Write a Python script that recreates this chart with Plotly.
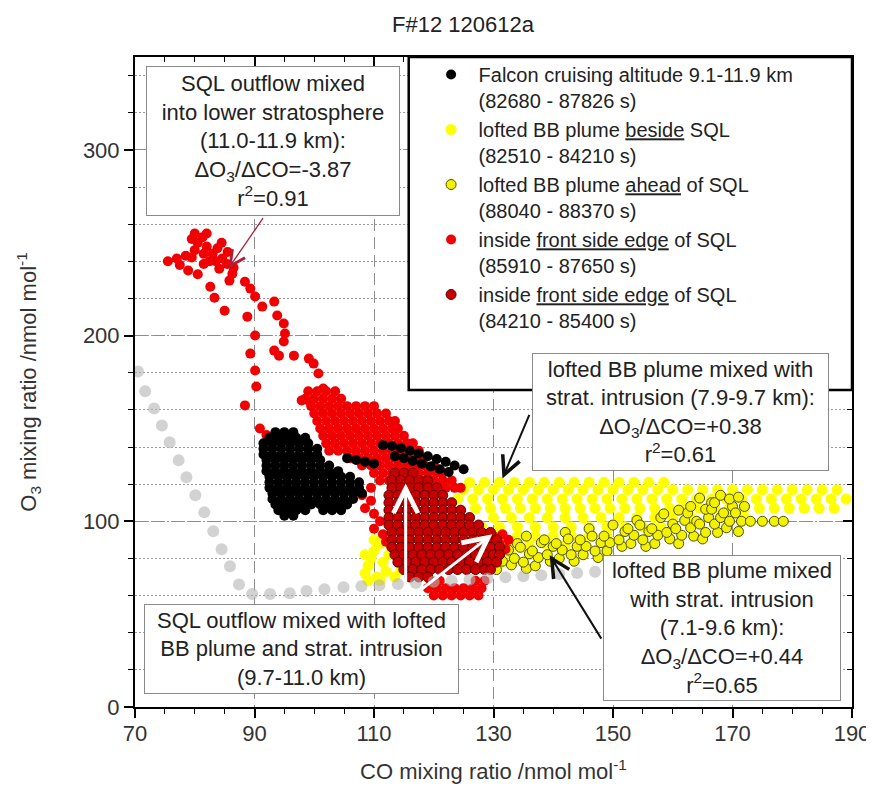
import plotly.graph_objects as go

# ---------------- data ----------------
gray_x = [70.5, 71.7, 73.2, 74.5, 75.8, 77.3, 78.6, 80.1, 81.6, 83.1, 84.5, 85.9, 87.4, 89.6, 92.6, 95.9, 98.7,
          101.7, 104.9, 107.9, 110.9, 114.0, 117.0, 120.0, 123.0, 126.0, 129.0, 132.0, 135.0, 138.0, 141.0, 144.0, 147.0]
gray_y = [180.6, 170.0, 160.7, 151.6, 142.5, 132.8, 123.7, 114.0, 104.8, 94.6, 85.0, 75.8, 66.0, 60.8, 60.8, 61.3, 62.4,
          63.4, 64.5, 65.0, 65.6, 66.2, 66.8, 67.4, 68.0, 68.6, 69.2, 69.8, 70.4, 71.0, 71.6, 72.2, 72.8]

falcon_x = [93.5, 95, 96.5,
            92.5, 94, 95.5, 97, 98.5,
            91.5, 93, 94.5, 96, 97.5, 99,
            91.5, 93, 94.5, 96, 97.5, 99, 100.5,
            91.5, 93, 94.5, 96, 97.5, 99, 100.5,
            92, 93.5, 95, 96.5, 98, 99.5, 101,
            92, 93.5, 95, 96.5, 98, 99.5, 101, 102.5,
            92, 93.5, 95, 96.5, 98, 99.5, 101, 102.5, 104,
            92.5, 94, 95.5, 97, 98.5, 100, 101.5, 103, 104.5, 106,
            92.5, 94, 95.5, 97, 98.5, 100, 101.5, 103, 104.5, 106, 107.5,
            92.5, 94, 95.5, 97, 98.5, 100, 101.5, 103, 104.5, 106, 107.5,
            93, 94.5, 96, 97.5, 99, 100.5, 102, 103.5, 105, 106.5, 108,
            93, 94.5, 96, 97.5, 99, 100.5, 102, 103.5, 105, 106.5,
            93.5, 95, 96.5, 98, 99.5, 101, 102.5, 104, 105.5,
            94, 95.5, 97, 98.5, 101.5, 103, 104.5,
            95, 96.5,
            105.5, 107, 108.5, 110, 111.5, 113, 114.5, 116, 117.5, 119, 120.5, 122, 123.5, 125,
            113.5, 115, 116.5, 118, 119.5, 121, 122.5]
falcon_y = [148, 148, 148,
            145, 145, 145, 145, 145,
            142, 142, 142, 142, 142, 142,
            139, 139, 139, 139, 139, 139, 139,
            136, 136, 136, 136, 136, 136, 136,
            133, 133, 133, 133, 133, 133, 133,
            130, 130, 130, 130, 130, 130, 130, 130,
            127, 127, 127, 127, 127, 127, 127, 127, 127,
            124, 124, 124, 124, 124, 124, 124, 124, 124, 124,
            121, 121, 121, 121, 121, 121, 121, 121, 121, 121, 121,
            118, 118, 118, 118, 118, 118, 118, 118, 118, 118, 118,
            115, 115, 115, 115, 115, 115, 115, 115, 115, 115, 115,
            112, 112, 112, 112, 112, 112, 112, 112, 112, 112,
            109, 109, 109, 109, 109, 109, 109, 109, 109,
            106, 106, 106, 106, 106, 106, 106,
            103, 103,
            134, 133, 132, 131, 141, 140.5, 139.5, 138, 136.5, 135, 133.5, 132, 130, 128,
            135, 134, 132.5, 131, 129.5, 128, 126.5]

beside_x = [126, 128.5, 131, 133.5, 136, 138.5, 141, 143.5, 146, 148.5, 151, 153.5, 156, 158.5,
            125, 127.5, 130, 132.5, 135, 137.5, 140, 142.5, 145, 147.5, 150, 152.5, 155, 157.5, 160, 162.5, 165,
            167.5, 170, 172.5, 175, 177.5, 180, 182.5, 185, 187.5,
            124, 126.5, 129, 131.5, 134, 136.5, 139, 141.5, 144, 146.5, 149, 151.5, 154, 156.5, 159, 161.5, 164,
            166.5, 169, 171.5, 174, 176.5, 179, 181.5, 184, 186.5, 189,
            127, 129.5, 132, 134.5, 137, 139.5, 142, 144.5, 147, 149.5, 152, 154.5, 157, 159.5, 162, 164.5, 167,
            169.5, 172, 174.5, 177, 179.5, 182, 184.5, 187,
            130, 133, 136, 139, 142, 145, 148, 151, 154, 157, 160, 163, 166, 169, 172,
            128, 131, 134, 137, 140, 143, 146, 149, 152, 155, 158,
            128, 131, 134, 137, 140, 143, 146, 149,
            127, 130, 133, 136, 139, 142,
            127, 130, 133, 136,
            128, 131,
            108.5, 109, 109.5, 110, 111, 110.5, 112, 111.5, 112.5, 113, 113.5, 114.5, 109, 111, 108.5, 110]
beside_y = [121] * 14 + [117] * 26 + [112] * 27 + [107] * 25 + [102] * 15 + [97] * 11 + [92] * 8 + [87] * 6 + \
           [82] * 4 + [77] * 2 + \
           [72, 76, 80, 84, 88, 70, 73, 78, 82, 86, 70, 74, 68, 68, 82, 90]

ahead_x = [129, 129.5,
           130.5, 131.5, 131, 130.5, 132,
           133, 133.5, 132.5, 134,
           135.5, 135, 136, 134.5, 135.5,
           137, 137.5, 136.5, 138,
           139.5, 139, 140, 138.5,
           141, 141.5, 140.5, 142,
           143.5, 143, 144, 142.5,
           145, 145.5, 144.5, 146,
           147.5, 147, 148, 146.5,
           149, 149.5, 148.5, 150,
           151.5, 151, 152,
           153, 153.5, 152.5, 154,
           155.5, 155, 156, 154.5,
           157, 157.5, 156.5, 158,
           159.5, 159, 160, 158.5,
           161, 161.5, 160.5, 162, 161,
           163.5, 163, 164, 162.5, 163, 164.5,
           165, 165.5, 164.5, 166, 165.5, 166.5,
           167.5, 167, 168, 166.5, 167, 168,
           169, 169.5, 168.5, 170, 169.5,
           171, 171.5, 170.5, 172, 171,
           173, 175, 177, 178.5]
ahead_y = [76, 80.5,
           74, 78.5, 82, 86.5, 90,
           76.5, 80, 84.5, 88,
           74.5, 78, 82.5, 86, 92,
           76, 80.5, 84, 88.5,
           78.5, 82, 86.5, 90,
           80, 84.5, 88, 94,
           78.5, 82, 86.5, 90.5,
           82, 86.5, 90, 96,
           80.5, 84, 88.5, 92,
           84, 88.5, 92, 98,
           86.5, 90, 94.5,
           88, 92.5, 96, 100.5,
           86.5, 90, 94.5, 98,
           88, 92.5, 96, 102,
           90.5, 94, 98.5, 104,
           88, 92.5, 96, 100.5, 106,
           92, 96.5, 100, 104.5, 108, 112.5,
           90.5, 94, 98.5, 102, 106.5, 110,
           94, 98.5, 102, 106.5, 110, 114,
           96.5, 100, 104.5, 108, 112,
           94.5, 100, 104.5, 108, 113,
           100, 100, 100, 100]

red_x = [75.5, 77.0, 78.5, 80.0, 80.5, 81.3, 79.5, 82.0, 83.0, 83.8, 83.5, 84.6, 85.4, 78.9, 80.5, 81.5, 84.1, 86.3,
         77.5, 79.5, 81.5, 82.5, 86.5, 80.0, 82.0, 84.5, 85.5,
         82.6, 83.3, 85.0, 85.8, 88.4, 89.3, 90.1, 91.3, 93.3, 93.8, 94.9, 95.1, 94.9, 93.3, 94.1, 96.6, 88.8, 90.1,
         89.3, 90.1, 90.3, 88.4, 99.1, 99.9, 100.7, 101.5, 97.9, 99.2, 90.9, 92.0,
         99, 100.5, 102, 103.5,
         98.5, 100, 101.5, 103, 104.5,
         99.5, 101, 102.5, 104, 105.5, 107, 108.5, 110,
         100, 101.5, 103, 104.5, 106, 107.5, 109, 110.5, 112,
         100.5, 102, 103.5, 105, 106.5, 108, 109.5, 111, 112.5, 113.5,
         101, 102.5, 104, 105.5, 107, 108.5, 110, 111.5, 113, 114,
         101.5, 103, 104.5, 106, 107.5, 109, 110.5, 112, 113.5, 115,
         102, 103.5, 105, 106.5, 108, 109.5, 111, 112.5, 114, 115.5, 116.5,
         102.5, 104, 105.5, 107, 108.5, 110, 111.5, 113, 114.5, 116, 117.5,
         106, 107.5, 109, 110.5, 112, 113.5, 115, 116.5, 118,
         108, 109.5, 111, 112.5, 114, 115.5, 117, 118.5, 120,
         110, 111.5, 113, 114.5, 116, 117.5, 119, 120.5, 121.5,
         111, 112.5, 114, 115.5, 117, 118.5, 120, 121.5, 123,
         119, 120.5, 122, 123.5, 124.5,
         108, 109.5, 108.5, 110, 111, 110, 111.5, 112, 109.5,
         120, 121.5, 123, 124.5, 126, 127.5, 119, 120.5, 122, 123.5, 125, 126.5, 128, 119.5, 121, 127, 128.5,
         130, 131.5, 132.5, 131, 130.5, 132]
red_y = [240, 241.5, 243, 246, 250, 253, 252, 248, 244, 247, 240, 241.5, 238.5, 235, 233, 238.5, 236, 233.3,
         238, 242, 244, 240, 236.5, 255, 255, 250, 245,
         226.3, 220.4, 213.4, 229.6, 229.0, 225.3, 221.0, 215.6, 218.3, 210.8, 206.5, 201.1, 196.8, 191.9, 189.2,
         189.2, 210.2, 200.0, 190.3, 181.2, 172.6, 162.4, 187.6, 184.9, 179.6, 171.5, 165.1, 164.5, 150.0, 146.5,
         170, 170, 170, 170,
         166, 166, 166, 166, 166,
         162, 162, 162, 162, 162, 162, 162, 162,
         158, 158, 158, 158, 158, 158, 158, 158, 158,
         154, 154, 154, 154, 154, 154, 154, 154, 154, 154,
         150, 150, 150, 150, 150, 150, 150, 150, 150, 150,
         146, 146, 146, 146, 146, 146, 146, 146, 146, 146,
         142, 142, 142, 142, 142, 142, 142, 142, 142, 142, 142,
         138, 138, 138, 138, 138, 138, 138, 138, 138, 138, 138,
         134, 134, 134, 134, 134, 134, 134, 134, 134,
         130, 130, 130, 130, 130, 130, 130, 130, 130,
         126, 126, 126, 126, 126, 126, 126, 126, 126,
         122, 122, 122, 122, 122, 122, 122, 122, 122,
         118, 118, 118, 118, 118,
         114, 111, 107, 104, 100, 96, 93, 89, 118,
         60, 60, 60, 60, 60, 60, 64, 64, 64, 64, 64, 64, 64, 68, 68, 68, 68,
         92, 93, 90, 88, 84, 85]

sqldark_x = [113.5, 115, 116.5,
             113, 114.5, 116, 117.5, 119,
             113, 114.5, 116, 117.5, 119, 120.5,
             112.5, 114, 115.5, 117, 118.5, 120, 121.5,
             112.5, 114, 115.5, 117, 118.5, 120, 121.5, 123,
             112.5, 114, 115.5, 117, 118.5, 120, 121.5, 123, 124.5,
             112.5, 114, 115.5, 117, 118.5, 120, 121.5, 123, 124.5, 126,
             112.5, 114, 115.5, 117, 118.5, 120, 121.5, 123, 124.5, 126, 127.5,
             113, 114.5, 116, 117.5, 119, 120.5, 122, 123.5, 125, 126.5, 128, 129.5,
             113, 114.5, 116, 117.5, 119, 120.5, 122, 123.5, 125, 126.5, 128, 129.5, 130.5,
             113, 114.5, 116, 117.5, 119, 120.5, 122, 123.5, 125, 126.5, 128, 129.5, 131,
             113.5, 115, 116.5, 118, 119.5, 121, 122.5, 124, 125.5, 127, 128.5, 130, 131,
             114, 115.5, 117, 118.5, 120, 121.5, 123, 124.5, 126, 127.5, 129, 130.5,
             115, 116.5, 118, 119.5, 121, 122.5, 124, 125.5, 127, 128.5, 129.5,
             116, 117.5, 119]
sqldark_y = [126] * 3 + [122] * 5 + [118] * 6 + [114] * 7 + [110] * 8 + [106] * 9 + [102] * 10 + [98] * 11 + \
            [94] * 12 + [90] * 13 + [86] * 13 + [82] * 13 + [78] * 12 + [74] * 11 + [70] * 3

# ---------------- text ----------------
title_text = "F#12 120612a"
x_title = "CO mixing ratio /nmol mol<sup>-1</sup>"
y_title = "O<sub>3</sub> mixing ratio /nmol mol<sup>-1</sup>"
x_ticks = [70, 90, 110, 130, 150, 170, 190]
y_ticks = [0, 100, 200, 300]
legend_names = [
    "Falcon cruising altitude 9.1-11.9 km<br>(82680 - 87826 s)",
    "lofted BB plume <u>beside</u> SQL<br>(82510 - 84210 s)",
    "lofted BB plume <u>ahead</u> of SQL<br>(88040 - 88370 s)",
    "inside <u>front side edge</u> of SQL<br>(85910 - 87650 s)",
    "inside <u>front side edge</u> of SQL<br>(84210 - 85400 s)",
]
box_texts = [
    "SQL outflow mixed<br>into lower stratosphere<br>(11.0-11.9 km):<br>ΔO<sub>3</sub>/ΔCO=-3.87<br>r<sup>2</sup>=0.91",
    "lofted BB plume mixed with<br>strat. intrusion (7.9-9.7 km):<br>ΔO<sub>3</sub>/ΔCO=+0.38<br>r<sup>2</sup>=0.61",
    "lofted BB plume mixed<br>with strat. intrusion<br>(7.1-9.6 km):<br>ΔO<sub>3</sub>/ΔCO=+0.44<br>r<sup>2</sup>=0.65",
    "SQL outflow mixed with lofted<br>BB plume and strat. intrusion<br>(9.7-11.0 km)",
]

FONT = "Liberation Sans, Arial, sans-serif"

fig = go.Figure()

fig.add_trace(go.Scatter(x=beside_x, y=beside_y, mode="markers", name=legend_names[1], legendrank=2,
                         marker=dict(size=11, color="#ffff00", line=dict(width=0))))
fig.add_trace(go.Scatter(x=ahead_x, y=ahead_y, mode="markers", name=legend_names[2], legendrank=3,
                         marker=dict(size=10, color="#f2f200", line=dict(width=1, color="#4f4f00"))))
fig.add_trace(go.Scatter(x=red_x, y=red_y, mode="markers", name=legend_names[3], legendrank=4,
                         marker=dict(size=10, color="#f00000", line=dict(width=0))))
fig.add_trace(go.Scatter(x=falcon_x, y=falcon_y, mode="markers", name=legend_names[0], legendrank=1,
                         marker=dict(size=10, color="#000000", line=dict(width=0))))
fig.add_trace(go.Scatter(x=sqldark_x, y=sqldark_y, mode="markers", name=legend_names[4], legendrank=5,
                         marker=dict(size=10, color="#c80000", line=dict(width=1, color="#5a0000"))))
fig.add_trace(go.Scatter(x=gray_x, y=gray_y, mode="markers", showlegend=False, hoverinfo="skip",
                         marker=dict(size=12, color="#b4b4b4", opacity=0.6, line=dict(width=0))))
# helper traces so that the inside-tick mirror axes are drawn
fig.add_trace(go.Scatter(x=[None], y=[None], xaxis="x2", yaxis="y", showlegend=False, hoverinfo="skip"))
fig.add_trace(go.Scatter(x=[None], y=[None], xaxis="x", yaxis="y2", showlegend=False, hoverinfo="skip"))

# legend frame
fig.add_shape(type="rect", xref="paper", yref="paper", x0=(403 - 127) / 723, x1=1, y0=(699 - 382) / 650, y1=1,
              line=dict(color="black", width=2.5), fillcolor="white", layer="above")

# text boxes: centre (data) and outer size (px)
box_pos = [(93.1, 304.8), (161.3, 158.6), (168.3, 42.5), (97.8, 31.2)]
box_size = [(254, 150), (297, 118), (238, 146), (315, 90)]
for t, (bx, by), (bw, bh) in zip(box_texts, box_pos, box_size):
    fig.add_annotation(x=bx, y=by, xref="x", yref="y", text=t, showarrow=False, xanchor="center",
                       yanchor="middle", align="center", valign="middle", width=bw - 8, height=bh - 8,
                       bgcolor="white", bordercolor="#8a8a8a",
                       borderwidth=1, borderpad=3, font=dict(family=FONT, size=22, color="#222"))

# arrows: (tail x, tail y, head x, head y, colour, width, size)
arrows = [
    (91.6, 264.0, 85.6, 236.0, "#b01c34", 1.3, 2.3),
    (136.1, 158.1, 131.5, 123.1, "#111111", 2.0, 1.8),
    (148.2, 36.0, 139.4, 81.7, "#111111", 2.0, 1.8),
    (115.3, 63.0, 115.3, 120.4, "#ffffff", 3.0, 1.6),
    (117.8, 63.0, 129.8, 93.0, "#ffffff", 3.0, 1.6),
]
for tx, ty, hx, hy, col, w, s in arrows:
    fig.add_annotation(x=hx, y=hy, ax=tx, ay=ty, xref="x", yref="y", axref="x", ayref="y", text="",
                       showarrow=True, arrowhead=5, arrowsize=s, arrowwidth=w, arrowcolor=col)

tickfont = dict(family=FONT, size=22, color="#333")
fig.update_layout(
    width=874, height=790,
    margin=dict(l=127, r=24, t=49, b=91),
    paper_bgcolor="white", plot_bgcolor="white",
    font=dict(family=FONT, size=22, color="#222"),
    title=dict(text=title_text, x=455 / 874, xanchor="center", y=1 - 16 / 790, yanchor="middle",
               font=dict(family=FONT, size=22, color="#222")),
    showlegend=True,
    legend=dict(x=(418 - 127) / 723, y=(699 - 47) / 650, xanchor="left", yanchor="top",
                bgcolor="rgba(0,0,0,0)", borderwidth=0, valign="top", tracegroupgap=0, itemwidth=45,
                font=dict(family=FONT, size=20, color="#222"), traceorder="normal"),
    xaxis=dict(range=[70, 190], tickmode="array", tickvals=x_ticks, ticks="outside", ticklen=9, tickwidth=1.5,
               tickcolor="black", showline=True, linewidth=2, linecolor="black", mirror=True,
               showgrid=True, gridcolor="#8c8c8c", gridwidth=1, griddash="12px,6px", zeroline=False,
               tickfont=tickfont, ticklabelstandoff=-3,
               minor=dict(dtick=5, tick0=70, ticks="outside", ticklen=5, tickwidth=1.2, tickcolor="black",
                          showgrid=False),
               title=dict(text=x_title, font=dict(family=FONT, size=22, color="#333"), standoff=18)),
    yaxis=dict(range=[0, 350], tickmode="array", tickvals=y_ticks, ticks="outside", ticklen=9, tickwidth=1.5,
               tickcolor="black", showline=True, linewidth=2, linecolor="black", mirror=True,
               showgrid=True, gridcolor="#8c8c8c", gridwidth=1, griddash="12px,6px", zeroline=False,
               tickfont=tickfont,
               minor=dict(dtick=20, tick0=0, ticks="outside", ticklen=5, tickwidth=1.2, tickcolor="black",
                          showgrid=True, gridcolor="#9a9a9a", gridwidth=1, griddash="2px,2px"),
               title=dict(text=y_title, font=dict(family=FONT, size=22, color="#333"), standoff=40)),
    xaxis2=dict(range=[70, 190], overlaying="x", side="top", anchor="y", showgrid=False, zeroline=False,
                tickmode="array", tickvals=x_ticks, ticks="inside", ticklen=9, tickwidth=1.5, tickcolor="black",
                showticklabels=False, showline=False,
                minor=dict(dtick=5, tick0=70, ticks="inside", ticklen=5, tickwidth=1.2, tickcolor="black")),
    yaxis2=dict(range=[0, 350], overlaying="y", side="right", anchor="x", showgrid=False, zeroline=False,
                tickmode="array", tickvals=y_ticks, ticks="inside", ticklen=9, tickwidth=1.5, tickcolor="black",
                showticklabels=False, showline=False,
                minor=dict(dtick=20, tick0=0, ticks="inside", ticklen=5, tickwidth=1.2, tickcolor="black")),
)

fig.write_html("out.html")
